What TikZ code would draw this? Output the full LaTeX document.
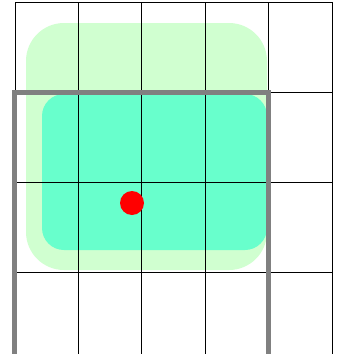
\documentclass[tikz,border=0pt]{standalone}
\begin{document}
\begin{tikzpicture}[x=1pt,y=-1pt,
  gridline/.style={black,line width=0.9pt},
  outerbox/.style={fill={rgb,255:red,208;green,255;blue,208},rounded corners=38pt},
  innerbox/.style={fill={rgb,255:red,104;green,255;blue,204},rounded corners=22pt},
  frame/.style={draw={rgb,255:red,128;green,128;blue,128},line width=5pt},
  dot/.style={fill=red,circle,inner sep=0pt,minimum size=24pt}]
\useasboundingbox (0,0) rectangle (340,354);
\clip (0,0) rectangle (340,354);
\fill[white] (0,0) rectangle (340,354);
\fill[outerbox] (26,23) rectangle (267,270);
\fill[innerbox] (42,94) rectangle (267,250);
\foreach \x in {15,78.4,141.8,205.2,268.6,332}
  \draw[gridline] (\x,2) -- (\x,360);
\foreach \y in {2,92,182,272}
  \draw[gridline] (15,\y) -- (332,\y);
\draw[frame] (14.7,92) rectangle (268,356.3);
\node[dot] (p) at (132,203) {};
\end{tikzpicture}
\end{document}
